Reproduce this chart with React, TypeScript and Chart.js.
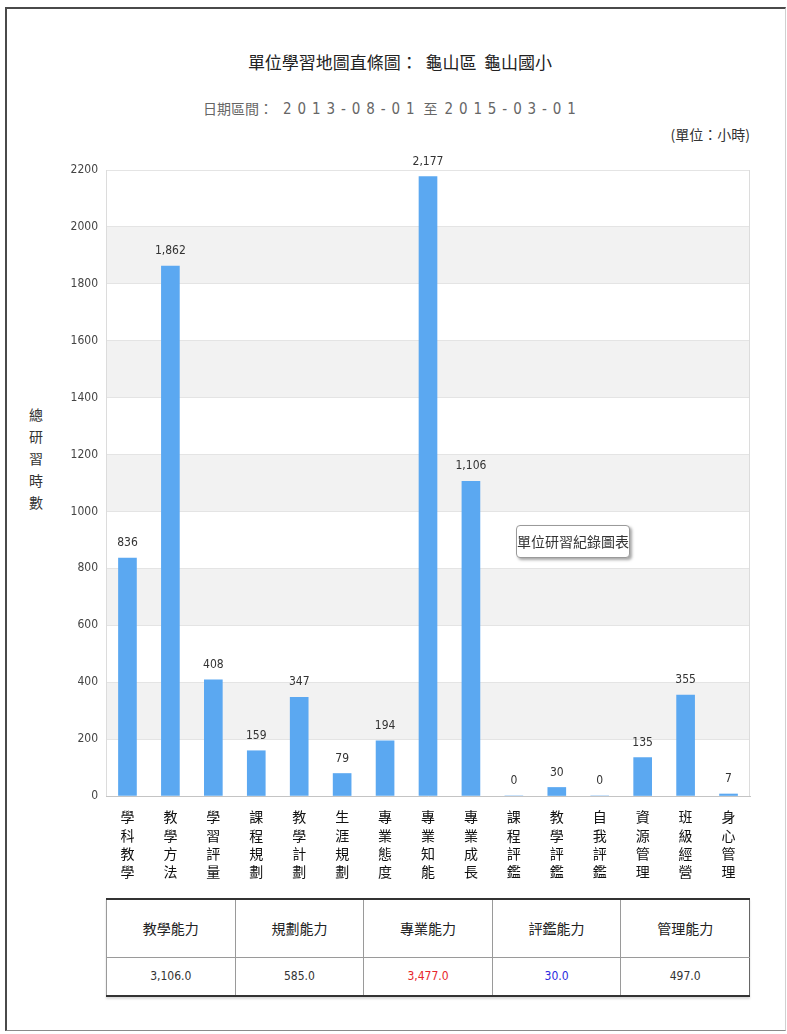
import React, { useEffect, useRef } from 'react';
import { Chart, registerables } from 'chart.js';

Chart.register(...registerables);

const categories = ['學科教學', '教學方法', '學習評量', '課程規劃', '教學計劃', '生涯規劃', '專業態度', '專業知能', '專業成長', '課程評鑑', '教學評鑑', '自我評鑑', '資源管理', '班級經營', '身心管理'];
const hours = [836, 1862, 408, 159, 347, 79, 194, 2177, 1106, 0, 30, 0, 135, 355, 7];
const yMin = 0;
const yMax = 2200;
const yStep = 200;
const abilityNames = ['教學能力', '規劃能力', '專業能力', '評鑑能力', '管理能力'];
const abilityTotals = [3106.0, 585.0, 3477.0, 30.0, 497.0];
const abilityColors = ['#333333', '#333333', '#e8262b', '#2b2be0', '#333333'];

const titleText = '單位學習地圖直條圖：  龜山區  龜山國小';
const dateLabel = '日期區間：';
const dateFrom = '2013-08-01';
const dateTo = '2015-03-01';
const dateSep = '至';
const unitText = '(單位：小時)';
const yTitleChars = ['總', '研', '習', '時', '數'];
const boxText = '單位研習紀錄圖表';

const NUM_FONT = '"DejaVu Sans Condensed", "Liberation Sans Narrow", "DejaVu Sans", sans-serif';
const CJK_FONT = '"Noto Sans CJK TC", "Noto Sans CJK SC", sans-serif';

const fmt = (v: number) => v.toLocaleString('en-US');

const bandsPlugin = {
  id: 'bands',
  beforeDraw(chart: any) {
    const { ctx, chartArea, scales } = chart;
    const y = scales.y;
    ctx.save();
    ctx.fillStyle = '#f2f2f2';
    const ticks = y.ticks;
    for (let i = 0; i < ticks.length - 1; i++) {
      if (i % 2 === 1) {
        const a = y.getPixelForValue(ticks[i].value);
        const b = y.getPixelForValue(ticks[i + 1].value);
        ctx.fillRect(chartArea.left, b, chartArea.right - chartArea.left, a - b);
      }
    }
    ctx.restore();
  },
  afterDraw(chart: any) {
    const { ctx, chartArea } = chart;
    ctx.save();
    ctx.strokeStyle = '#dcdcdc';
    ctx.lineWidth = 1;
    ctx.beginPath();
    ctx.moveTo(chartArea.left + 0.5, chartArea.top);
    ctx.lineTo(chartArea.left + 0.5, chartArea.bottom);
    ctx.moveTo(chartArea.right - 0.5, chartArea.top);
    ctx.lineTo(chartArea.right - 0.5, chartArea.bottom);
    ctx.stroke();
    ctx.restore();
  },
};

const labelsPlugin = {
  id: 'barLabels',
  afterDatasetsDraw(chart: any) {
    const { ctx } = chart;
    const meta = chart.getDatasetMeta(0);
    const data = chart.data.datasets[0].data as number[];
    ctx.save();
    ctx.font = `12px ${NUM_FONT}`;
    ctx.fillStyle = '#333333';
    ctx.textAlign = 'center';
    ctx.textBaseline = 'bottom';
    meta.data.forEach((el: any, i: number) => {
      ctx.fillText(fmt(data[i]), el.x, el.y - 9);
    });
    ctx.restore();
  },
};

function BarChart() {
  const ref = useRef<HTMLCanvasElement | null>(null);
  useEffect(() => {
    if (!ref.current) return;
    const chart = new Chart(ref.current, {
      type: 'bar',
      data: {
        labels: categories.map((c) => c.split('')),
        datasets: [
          {
            data: hours,
            backgroundColor: '#5ba8f1',
            borderWidth: 0,
            barThickness: 18,
          },
        ],
      },
      options: {
        animation: false,
        responsive: false,
        devicePixelRatio: 1,
        layout: { padding: { top: 30, right: 37, left: 0, bottom: 0 } },
        plugins: {
          legend: { display: false },
          tooltip: { enabled: false },
          title: { display: false },
        },
        scales: {
          x: {
            grid: { display: false },
            border: { display: true, color: '#c4c4c4' },
            ticks: {
              autoSkip: false,
              maxRotation: 0,
              minRotation: 0,
              padding: 4,
              color: '#111111',
              font: { family: CJK_FONT, size: 14, lineHeight: 1.3 },
            },
            afterFit: (scale: any) => {
              scale.height = 94;
            },
          },
          y: {
            min: yMin,
            max: yMax,
            ticks: {
              stepSize: yStep,
              padding: 8,
              color: '#444444',
              font: { family: NUM_FONT, size: 12 },
              callback: (v: any) => String(v),
            },
            grid: { color: '#e4e4e4', drawTicks: false },
            border: { display: false },
            afterFit: (scale: any) => {
              scale.width = 106;
            },
          },
        },
      },
      plugins: [bandsPlugin, labelsPlugin],
    });
    return () => chart.destroy();
  }, []);
  return (
    <canvas
      ref={ref}
      width={787}
      height={750}
      style={{ position: 'absolute', left: 0, top: 140, width: 787, height: 750 }}
    />
  );
}

const spaced = (s: string, ml: number) => (
  <span style={{ fontFamily: NUM_FONT, fontSize: 15, letterSpacing: 5.9, marginLeft: ml }}>{s}</span>
);

export default function App() {
  const cellBase: React.CSSProperties = {
    borderLeft: '1px solid #9a9a9a',
    textAlign: 'center',
    padding: 0,
  };
  return (
    <div style={{ position: 'absolute', left: 0, top: 0, width: 787, height: 1034, background: '#fff', overflow: 'hidden' }}>
      <div
        style={{
          position: 'absolute',
          left: 5,
          top: 7,
          width: 781,
          height: 1024,
          borderLeft: '2px solid #4a4a4a',
          borderTop: '2px solid #4a4a4a',
          borderBottom: '1px solid #8a8a8a',
          borderRight: '1px solid #d0d0d0',
          boxSizing: 'border-box',
        }}
      />
      <div
        style={{
          position: 'absolute',
          left: 0,
          width: 800,
          top: 50,
          textAlign: 'center',
          fontFamily: CJK_FONT,
          fontSize: 17,
          color: '#222',
          whiteSpace: 'pre',
          lineHeight: '24px',
        }}
      >
        {titleText}
      </div>
      <div
        style={{
          position: 'absolute',
          left: 203,
          top: 97,
          fontFamily: CJK_FONT,
          fontSize: 14,
          color: '#666',
          whiteSpace: 'pre',
          lineHeight: '22px',
        }}
      >
        <span>{dateLabel}</span>
        {spaced(dateFrom, 10)}
        <span style={{ marginLeft: 3 }}>{dateSep}</span>
        {spaced(dateTo, 7)}
      </div>
      <div
        style={{
          position: 'absolute',
          right: 37,
          top: 123,
          fontFamily: CJK_FONT,
          fontSize: 14,
          color: '#333',
          lineHeight: '22px',
        }}
      >
        {unitText}
      </div>
      <div
        style={{
          position: 'absolute',
          left: 27,
          top: 403,
          width: 18,
          fontFamily: CJK_FONT,
          fontSize: 14,
          color: '#333',
          lineHeight: '22px',
          textAlign: 'center',
        }}
      >
        {yTitleChars.map((c, i) => (
          <div key={i}>{c}</div>
        ))}
      </div>
      <BarChart />
      <div
        style={{
          position: 'absolute',
          left: 516,
          top: 525,
          width: 114,
          height: 33,
          boxSizing: 'border-box',
          border: '1px solid #9a9a9a',
          borderRadius: 4,
          background: '#ffffff',
          boxShadow: '2px 2px 3px rgba(0,0,0,0.35)',
          fontFamily: CJK_FONT,
          fontSize: 14,
          color: '#333',
          lineHeight: '31px',
          textAlign: 'center',
        }}
      >
        {boxText}
      </div>
      <table
        style={{
          position: 'absolute',
          left: 106,
          top: 898,
          width: 644,
          borderCollapse: 'collapse',
          borderTop: '2px solid #333',
          borderBottom: '2px solid #333',
          borderLeft: '1px solid #666',
          borderRight: '1px solid #666',
          tableLayout: 'fixed',
          boxShadow: '0 2px 2px rgba(0,0,0,0.15)',
        }}
      >
        <tbody>
          <tr style={{ height: 58 }}>
            {abilityNames.map((n, i) => (
              <td
                key={i}
                style={{
                  ...cellBase,
                  borderBottom: '1px solid #9a9a9a',
                  fontFamily: CJK_FONT,
                  fontSize: 14,
                  color: '#222',
                }}
              >
                {n}
              </td>
            ))}
          </tr>
          <tr style={{ height: 39 }}>
            {abilityTotals.map((v, i) => (
              <td
                key={i}
                style={{
                  ...cellBase,
                  fontFamily: NUM_FONT,
                  fontSize: 12,
                  color: abilityColors[i],
                }}
              >
                {v.toLocaleString('en-US', { minimumFractionDigits: 1, maximumFractionDigits: 1 })}
              </td>
            ))}
          </tr>
        </tbody>
      </table>
    </div>
  );
}
